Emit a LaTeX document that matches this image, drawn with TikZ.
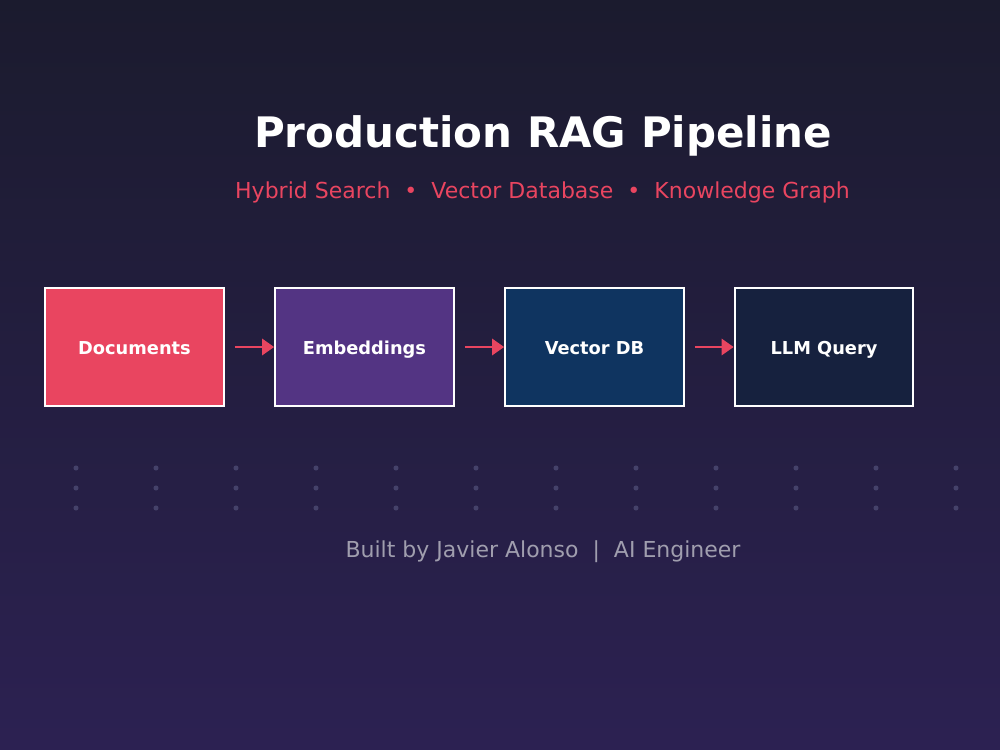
\documentclass[tikz,border=0pt]{standalone}
\usepackage{fontspec}
\setmainfont{DejaVu Sans}
\usetikzlibrary{arrows.meta}
\definecolor{bgtop}{HTML}{1B1B2E}
\definecolor{bgbot}{HTML}{2C2152}
\definecolor{accent}{HTML}{E94560}
\definecolor{cA}{HTML}{E94560}
\definecolor{cB}{HTML}{533483}
\definecolor{cC}{HTML}{0F3460}
\definecolor{cD}{HTML}{16213E}
\definecolor{footgray}{HTML}{A09EAE}
\definecolor{dotc}{HTML}{45426A}
\tikzset{
  stage/.style={draw=white, line width=1.5pt, minimum width=134pt, minimum height=89pt, inner sep=0pt,
    text=white, text height=10.5pt, text depth=0pt, font=\fontsize{13.35}{16}\selectfont\bfseries},
  flow/.style={draw=accent, line width=2.2pt, -{Triangle[length=9pt,width=12pt]}},
  dot/.style={fill=dotc, draw=none}
}
\begin{document}
\begin{tikzpicture}[x=0.75pt,y=-0.75pt]
\shade[top color=bgtop, bottom color=bgbot] (0,0) rectangle (1000,750);
\useasboundingbox (0,0) rectangle (1000,750);
\node[anchor=base, text=white, font=\fontsize{31.5}{36}\selectfont\bfseries] (title) at (543,147) {Production RAG Pipeline};
\node[anchor=base, text=accent, font=\fontsize{16.5}{20}\selectfont] (sub) at (542.5,198) {Hybrid Search \ • \ Vector Database \ • \ Knowledge Graph};
\node[stage, fill=cA] (a) at (134.5,347) {Documents};
\node[stage, fill=cB] (b) at (364.5,347) {Embeddings};
\node[stage, fill=cC] (c) at (594.5,347) {Vector DB};
\node[stage, fill=cD] (d) at (824,347) {LLM Query};
\draw[flow] ([xshift=7.5pt]a.east) -- (b.west);
\draw[flow] ([xshift=7.5pt]b.east) -- (c.west);
\draw[flow] ([xshift=7.5pt]c.east) -- (d.west);
\foreach \i in {0,...,11}{
  \foreach \j in {0,1,2}{
    \fill[dot] (76+80*\i,468+20*\j) circle (1.9pt);
  }
}
\node[anchor=base, text=footgray, font=\fontsize{16.5}{20}\selectfont] (foot) at (543,557) {Built by Javier Alonso \ | \ AI Engineer};
\end{tikzpicture}
\end{document}
